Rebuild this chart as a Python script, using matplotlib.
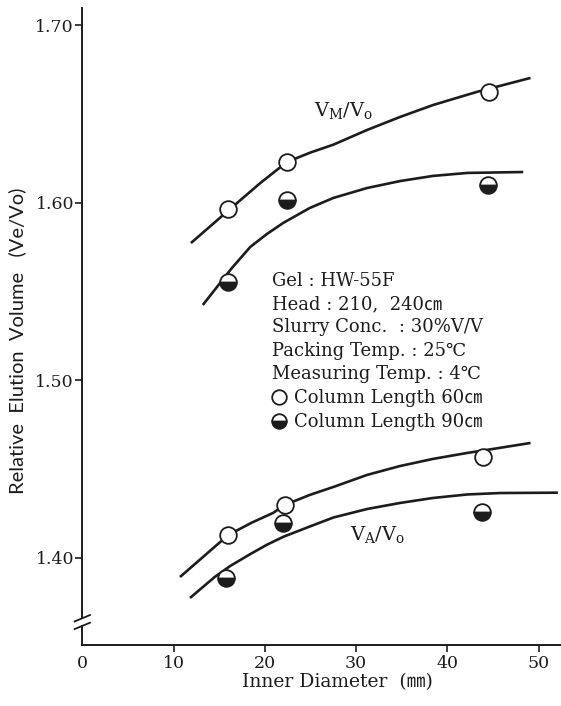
import matplotlib
matplotlib.use("Agg")
import matplotlib.pyplot as plt
from matplotlib.lines import Line2D

plt.rcParams['font.family'] = ['DejaVu Serif', 'DejaVu Sans', 'Noto Sans CJK JP']
plt.rcParams['mathtext.fontset'] = 'dejavuserif'

INK = '#1c1c1c'

# measured points: inner diameter (mm) vs relative elution volume
vm_60_x = [16.0, 22.4, 44.5]
vm_60_y = [1.5964, 1.6231, 1.6624]
vm_90_x = [16.0, 22.4, 44.4]
vm_90_y = [1.5554, 1.6014, 1.6099]
va_60_x = [16.0, 22.2, 43.9]
va_60_y = [1.4128, 1.4297, 1.4569]
va_90_x = [15.7, 22.0, 43.8]
va_90_y = [1.3888, 1.4194, 1.4259]

# hand-fitted trend curves
curve_vm60_x = [11.9, 16.2, 19.5, 22.4, 25.0, 27.5, 31.2, 34.8, 38.4, 43.2, 49.1]
curve_vm60_y = [1.5772, 1.5964, 1.6110, 1.6228, 1.6282, 1.6326, 1.6409, 1.6482, 1.6549, 1.6623, 1.6702]
curve_vm90_x = [13.2, 16.4, 18.4, 20.2, 22.0, 24.9, 27.5, 31.2, 34.8, 38.4, 42.2, 48.3]
curve_vm90_y = [1.5423, 1.5632, 1.5750, 1.5822, 1.5885, 1.5969, 1.6026, 1.6082, 1.6121, 1.6150, 1.6167, 1.6172]
curve_va60_x = [10.7, 16.0, 18.6, 20.9, 22.2, 24.9, 27.5, 31.2, 34.8, 38.4, 42.2, 44.1, 49.1]
curve_va60_y = [1.3891, 1.4128, 1.4198, 1.4252, 1.4297, 1.4353, 1.4398, 1.4466, 1.4516, 1.4556, 1.4590, 1.4605, 1.4646]
curve_va90_x = [11.8, 14.5, 16.2, 18.4, 20.2, 22.0, 24.9, 27.5, 31.2, 34.8, 38.4, 42.2, 45.8, 52.1]
curve_va90_y = [1.3773, 1.3891, 1.3953, 1.4020, 1.4072, 1.4117, 1.4175, 1.4226, 1.4274, 1.4308, 1.4336, 1.4356, 1.4364, 1.4366]

yticks = [1.40, 1.50, 1.60, 1.70]
ytick_labels = ['1.40', '1.50', '1.60', '1.70']
xticks = [0, 10, 20, 30, 40, 50]

conditions = ['Gel : HW-55F',
              'Head : 210,  240㎝',
              'Slurry Conc.  : 30%V/V',
              'Packing Temp. : 25℃',
              'Measuring Temp. : 4℃']

fig = plt.figure(figsize=(5.61, 7.06), dpi=100)
ax = fig.add_axes([0.1467, 0.0864, 0.8533, 0.9023])
ax.set_xlim(0, 52.44)
ax.set_ylim(1.3508, 1.7096)

# curves
for cx, cy in [(curve_vm60_x, curve_vm60_y), (curve_vm90_x, curve_vm90_y),
               (curve_va60_x, curve_va60_y), (curve_va90_x, curve_va90_y)]:
    ax.plot(cx, cy, color=INK, lw=1.9, solid_capstyle='butt',
            solid_joinstyle='round', zorder=2)

open_kw = dict(ls='none', marker='o', ms=12, mew=1.3, mec=INK, mfc='white', zorder=3)
half_kw = dict(ls='none', marker='o', ms=12, mew=1.3, mec=INK, mfc=INK,
               fillstyle='bottom', markerfacecoloralt='white', zorder=3)
ax.plot(vm_60_x, vm_60_y, **open_kw)
ax.plot(va_60_x, va_60_y, **open_kw)
ax.plot(vm_90_x, vm_90_y, **half_kw)
ax.plot(va_90_x, va_90_y, **half_kw)

ax.text(28.6, 1.6521, r'V$_\mathregular{M}$/V$_\mathregular{o}$', fontsize=14,
        ha='center', va='center', color=INK)
ax.text(32.4, 1.4128, r'V$_\mathregular{A}$/V$_\mathregular{o}$', fontsize=14,
        ha='center', va='center', color=INK)

# conditions block with the marker key
handles = [Line2D([], [], **{k: v for k, v in open_kw.items() if k != 'zorder'}),
           Line2D([], [], **{k: v for k, v in half_kw.items() if k != 'zorder'})]
for h in handles:
    h.set_markersize(10.5)
leg = ax.legend(handles, ['Column Length 60㎝', 'Column Length 90㎝'],
                title='\n'.join(conditions), alignment='left',
                loc='upper left', bbox_to_anchor=(0.378, 0.600),
                frameon=False, borderpad=0, handlelength=0.8, handletextpad=0.4,
                labelspacing=0.33, prop={'size': 13}, title_fontsize=13)
leg.get_title().set_linespacing(1.38)
leg.get_title().set_color(INK)
for t in leg.get_texts():
    t.set_color(INK)

# axes styling
for s in ['top', 'right']:
    ax.spines[s].set_visible(False)
for s in ['left', 'bottom']:
    ax.spines[s].set_linewidth(1.4)
    ax.spines[s].set_color(INK)
ax.spines['left'].set_bounds(1.3666, 1.7096)

ax.set_yticks(yticks)
ax.set_yticklabels(ytick_labels)
ax.set_xticks(xticks)
ax.tick_params(axis='both', colors=INK, labelsize=12.5, width=1.2, length=5)
ax.tick_params(axis='y', pad=1)
ax.tick_params(axis='x', pad=2)
ax.xaxis.get_major_ticks()[0].tick1line.set_visible(False)

# axis break on the y axis
brk = dict(transform=ax.transAxes, color=INK, lw=1.3, clip_on=False)
ax.plot([-0.016, 0.016], [0.037, 0.047], **brk)
ax.plot([-0.016, 0.016], [0.025, 0.035], **brk)
ax.plot([0, 0], [0, 0.030], transform=ax.transAxes, color=INK, lw=1.4, clip_on=False)

ax.set_xlabel('Inner Diameter  (㎜)', fontsize=13.5, color=INK)
ax.xaxis.set_label_coords(0.533, -0.044)
ax.set_ylabel('Relative  Elution  Volume   (Ve/Vo)', fontsize=14.5, color=INK,
              family=['Lato', 'DejaVu Sans'])
ax.yaxis.set_label_coords(-0.118, 0.477)

fig.savefig('out.png', dpi=100)
